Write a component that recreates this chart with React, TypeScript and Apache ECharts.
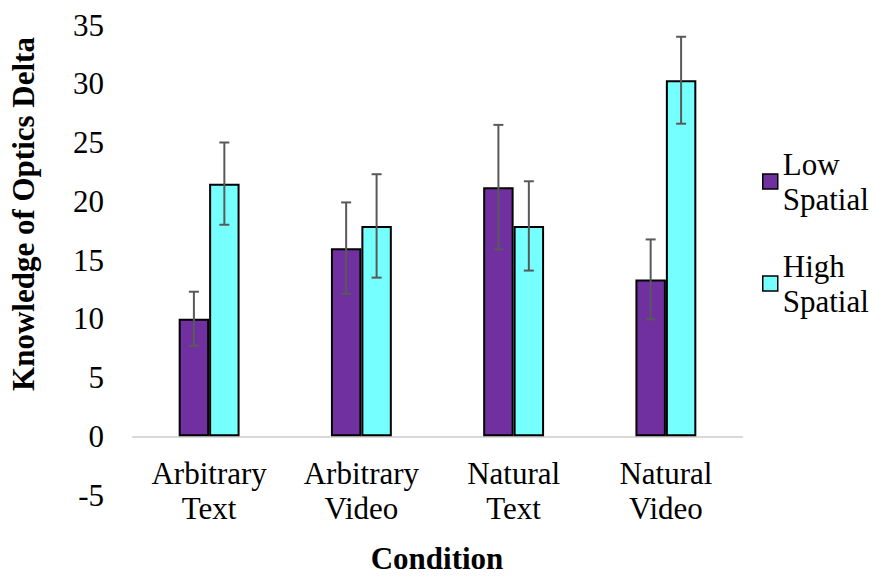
import React, { useEffect, useRef } from "react";
import * as echarts from "echarts";

const categories = ["Arbitrary\nText", "Arbitrary\nVideo", "Natural\nText", "Natural\nVideo"];
const seriesNames = ["Low Spatial", "High Spatial"];
const lowValues = [10.0, 16.0, 21.2, 13.35];
const highValues = [21.5, 17.9, 17.9, 30.3];
const lowErrors = [2.3, 3.9, 5.3, 3.4];
const highErrors = [3.5, 4.4, 3.8, 3.7];
const yTicks = { min: -5, max: 35, interval: 5 };

const FONT = "Liberation Serif";
const PURPLE = "#7030A0";
const CYAN = "#75FFFF";

function errorSeries(name: string, values: number[], errors: number[], side: number) {
  return {
    type: "custom",
    name: name + " error",
    z: 10,
    silent: true,
    encode: { x: 0, y: 1 },
    data: values.map((v, i) => [i, v, errors[i]]),
    renderItem: (params: any, api: any) => {
      const cat = api.value(0);
      const val = api.value(1);
      const err = api.value(2);
      const band = api.size([1, 0])[0];
      const barW = band * 0.2;
      const c = api.coord([cat, val]);
      const x = c[0] + (side * barW) / 2;
      const top = api.coord([cat, val + err])[1];
      const bot = api.coord([cat, val - err])[1];
      const cap = 5;
      const style = { stroke: "#595959", lineWidth: 2 };
      return {
        type: "group",
        children: [
          { type: "line", shape: { x1: x, y1: top, x2: x, y2: bot }, style },
          { type: "line", shape: { x1: x - cap, y1: top, x2: x + cap, y2: top }, style },
          { type: "line", shape: { x1: x - cap, y1: bot, x2: x + cap, y2: bot }, style },
        ],
      };
    },
  };
}

export default function App() {
  const ref = useRef<HTMLDivElement>(null);
  useEffect(() => {
    if (!ref.current) return;
    const chart = echarts.init(ref.current, null, { renderer: "svg" });
    const legendBase = {
      orient: "vertical",
      left: 762,
      padding: 0,
      itemWidth: 15,
      itemHeight: 15,
      icon: "rect",
      formatter: (n: string) => n.replace(" ", "\n"),
      textStyle: {
        fontFamily: FONT,
        fontSize: 31,
        color: "#000",
        lineHeight: 35,
        padding: [35, 0, 0, 0],
      },
    };
    chart.setOption({
      animation: false,
      backgroundColor: "#fff",
      grid: { left: 133, right: 135, top: 25, bottom: 84, containLabel: false, outerBoundsMode: "none" },
      legend: [
        { ...legendBase, top: 129, data: [{ name: seriesNames[0], itemStyle: { borderColor: "#000", borderWidth: 1.5 } }] },
        { ...legendBase, top: 231, data: [{ name: seriesNames[1], itemStyle: { borderColor: "#000", borderWidth: 1.5 } }] },
      ],
      xAxis: {
        type: "category",
        data: categories,
        axisLine: { onZero: true, lineStyle: { color: "#d9d9d9", width: 2 } },
        axisTick: { show: false },
        axisLabel: {
          fontFamily: FONT,
          fontSize: 31,
          color: "#000",
          lineHeight: 35,
          margin: -39,
          interval: 0,
        },
      },
      yAxis: {
        type: "value",
        min: yTicks.min,
        max: yTicks.max,
        interval: yTicks.interval,
        axisLine: { show: false },
        axisTick: { show: false },
        splitLine: { show: false },
        axisLabel: { fontFamily: FONT, fontSize: 31, color: "#000", margin: 29 },
      },
      graphic: [
        {
          type: "text",
          x: 23,
          y: 214,
          rotation: Math.PI / 2,
          style: {
            text: "Knowledge of Optics Delta",
            fontFamily: FONT,
            fontSize: 31,
            fontWeight: "bold",
            fill: "#000",
            align: "center",
            verticalAlign: "middle",
          },
        },
        {
          type: "text",
          x: 437,
          y: 558,
          style: {
            text: "Condition",
            fontFamily: FONT,
            fontSize: 31,
            fontWeight: "bold",
            fill: "#000",
            align: "center",
            verticalAlign: "middle",
          },
        },
      ],
      series: [
        {
          type: "bar",
          name: seriesNames[0],
          data: lowValues,
          barGap: "0%",
          barCategoryGap: "60%",
          itemStyle: { color: PURPLE, borderColor: "#000", borderWidth: 2 },
        },
        {
          type: "bar",
          name: seriesNames[1],
          data: highValues,
          barGap: "0%",
          barCategoryGap: "60%",
          itemStyle: { color: CYAN, borderColor: "#000", borderWidth: 2 },
        },
        errorSeries(seriesNames[0], lowValues, lowErrors, -1),
        errorSeries(seriesNames[1], highValues, highErrors, 1),
      ],
    });
    return () => chart.dispose();
  }, []);
  return <div ref={ref} style={{ position: "fixed", left: 0, top: 0, width: 877, height: 579 }} />;
}
